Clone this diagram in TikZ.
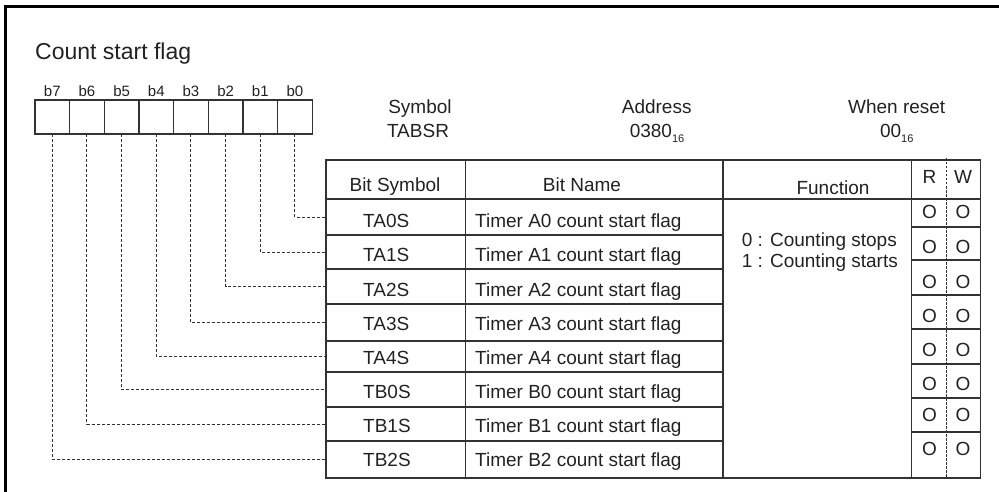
\documentclass[tikz,border=0pt]{standalone}
\usepackage{fontspec}
\setmainfont{Liberation Sans}
\definecolor{txtc}{HTML}{222222}
\definecolor{linec}{HTML}{333333}
\newcommand\fsz[1]{\fontsize{#1}{#1}\selectfont}
\begin{document}
\begin{tikzpicture}[x=1pt,y=-1pt,
  txt/.style={inner sep=0pt, text=txtc, font=\fsz{19}},
  small/.style={inner sep=0pt, text=txtc, font=\fsz{15}},
  cellbox/.style={draw=linec, line width=1.2pt, minimum width=34.66pt, minimum height=34pt, inner sep=0pt, outer sep=0pt},
  conn/.style={draw=linec, line width=1pt, dash pattern=on 3pt off 2pt},
  rwdash/.style={draw=linec, line width=0.8pt, dash pattern=on 2.5pt off 1.5pt},
  tline/.style={draw=linec, line width=1.2pt},
]
\useasboundingbox (0,0) rectangle (999,492);
\begin{scope}
\clip (0,0) rectangle (999,492);
\draw[line width=3pt] (5,6.5) rectangle (1010,510);
\end{scope}

\node[inner sep=0pt, text=txtc, font=\fsz{23}, anchor=base west] (title) at (35,60) {Count start flag};

% register info
\node[txt, anchor=base] (sym) at (420,114) {Symbol};
\node[txt, anchor=base] (symv) at (418,137.3) {TABSR};
\node[txt, anchor=base] (adr) at (656.7,114) {Address};
\node[txt, anchor=base] (adrv) at (657,137.3) {0380\raisebox{-5.5pt}{\fsz{11}16}};
\node[txt, anchor=base] (rst) at (896.7,114) {When reset};
\node[txt, anchor=base] (rstv) at (896.7,137.3) {00\raisebox{-5.5pt}{\fsz{11}16}};

% bit cells
\foreach \i in {0,...,7} {
  \pgfmathsetmacro\cx{35+34.66*(7-\i)+17.33}
  \node[cellbox] (c\i) at (\cx,117) {};
  \node[small, anchor=base] (lb\i) at (\cx,97) {b\i};
}

% table lines
\draw[tline] (326,160) rectangle (980.7,478);
\draw[tline] (465.7,160) -- (465.7,478);
\draw[tline] (723,160) -- (723,478);
\draw[tline] (911.7,160) -- (911.7,478);
\draw[tline] (326,199) -- (980.7,199);
\foreach \y in {235,269,304,341,372,407,441} \draw[tline] (326,\y) -- (723,\y);
\foreach \y in {227,260,295,329,364,398,432} \draw[tline] (911.7,\y) -- (980.7,\y);
\draw[rwdash] (946,158) -- (946,478);

% headers
\node[txt, anchor=base] (hbs) at (395,191) {Bit Symbol};
\node[txt, anchor=base] (hbn) at (582,191) {Bit Name};
\node[txt, anchor=base] (hf) at (833,194) {Function};
\node[txt, anchor=base] (hr) at (929.5,183) {R};
\node[txt, anchor=base] (hw) at (963,183) {W};

% rows
\foreach \i/\sy/\nm/\yc in {0/TA0S/A0/217, 1/TA1S/A1/252, 2/TA2S/A2/286.5, 3/TA3S/A3/322.5, 4/TA4S/A4/356.5, 5/TB0S/B0/389.5, 6/TB1S/B1/424, 7/TB2S/B2/459.5} {
  \pgfmathsetmacro\yb{227.7+34.15*\i}
  \coordinate (p\i) at (326,\yc);
  \node[txt, anchor=base west] (s\i) at (363,\yb) {\sy};
  \node[txt, anchor=base west] (n\i) at (475,\yb) {Timer \nm\ count start flag};
  \draw[conn] (c\i.south) |- (p\i);
}

% function
\node[txt, anchor=base west] (f0) at (741.7,246.7) {0 : Counting stops};
\node[txt, anchor=base west] (f1) at (741.7,267) {1 : Counting starts};

% R/W marks
\foreach \i/\y in {0/218.7, 1/253.7, 2/288.7, 3/322, 4/356, 5/390, 6/421, 7/455} {
  \node[txt, anchor=base] (or\i) at (929.5,\y) {O};
  \node[txt, anchor=base] (ow\i) at (963,\y) {O};
}
\end{tikzpicture}
\end{document}
